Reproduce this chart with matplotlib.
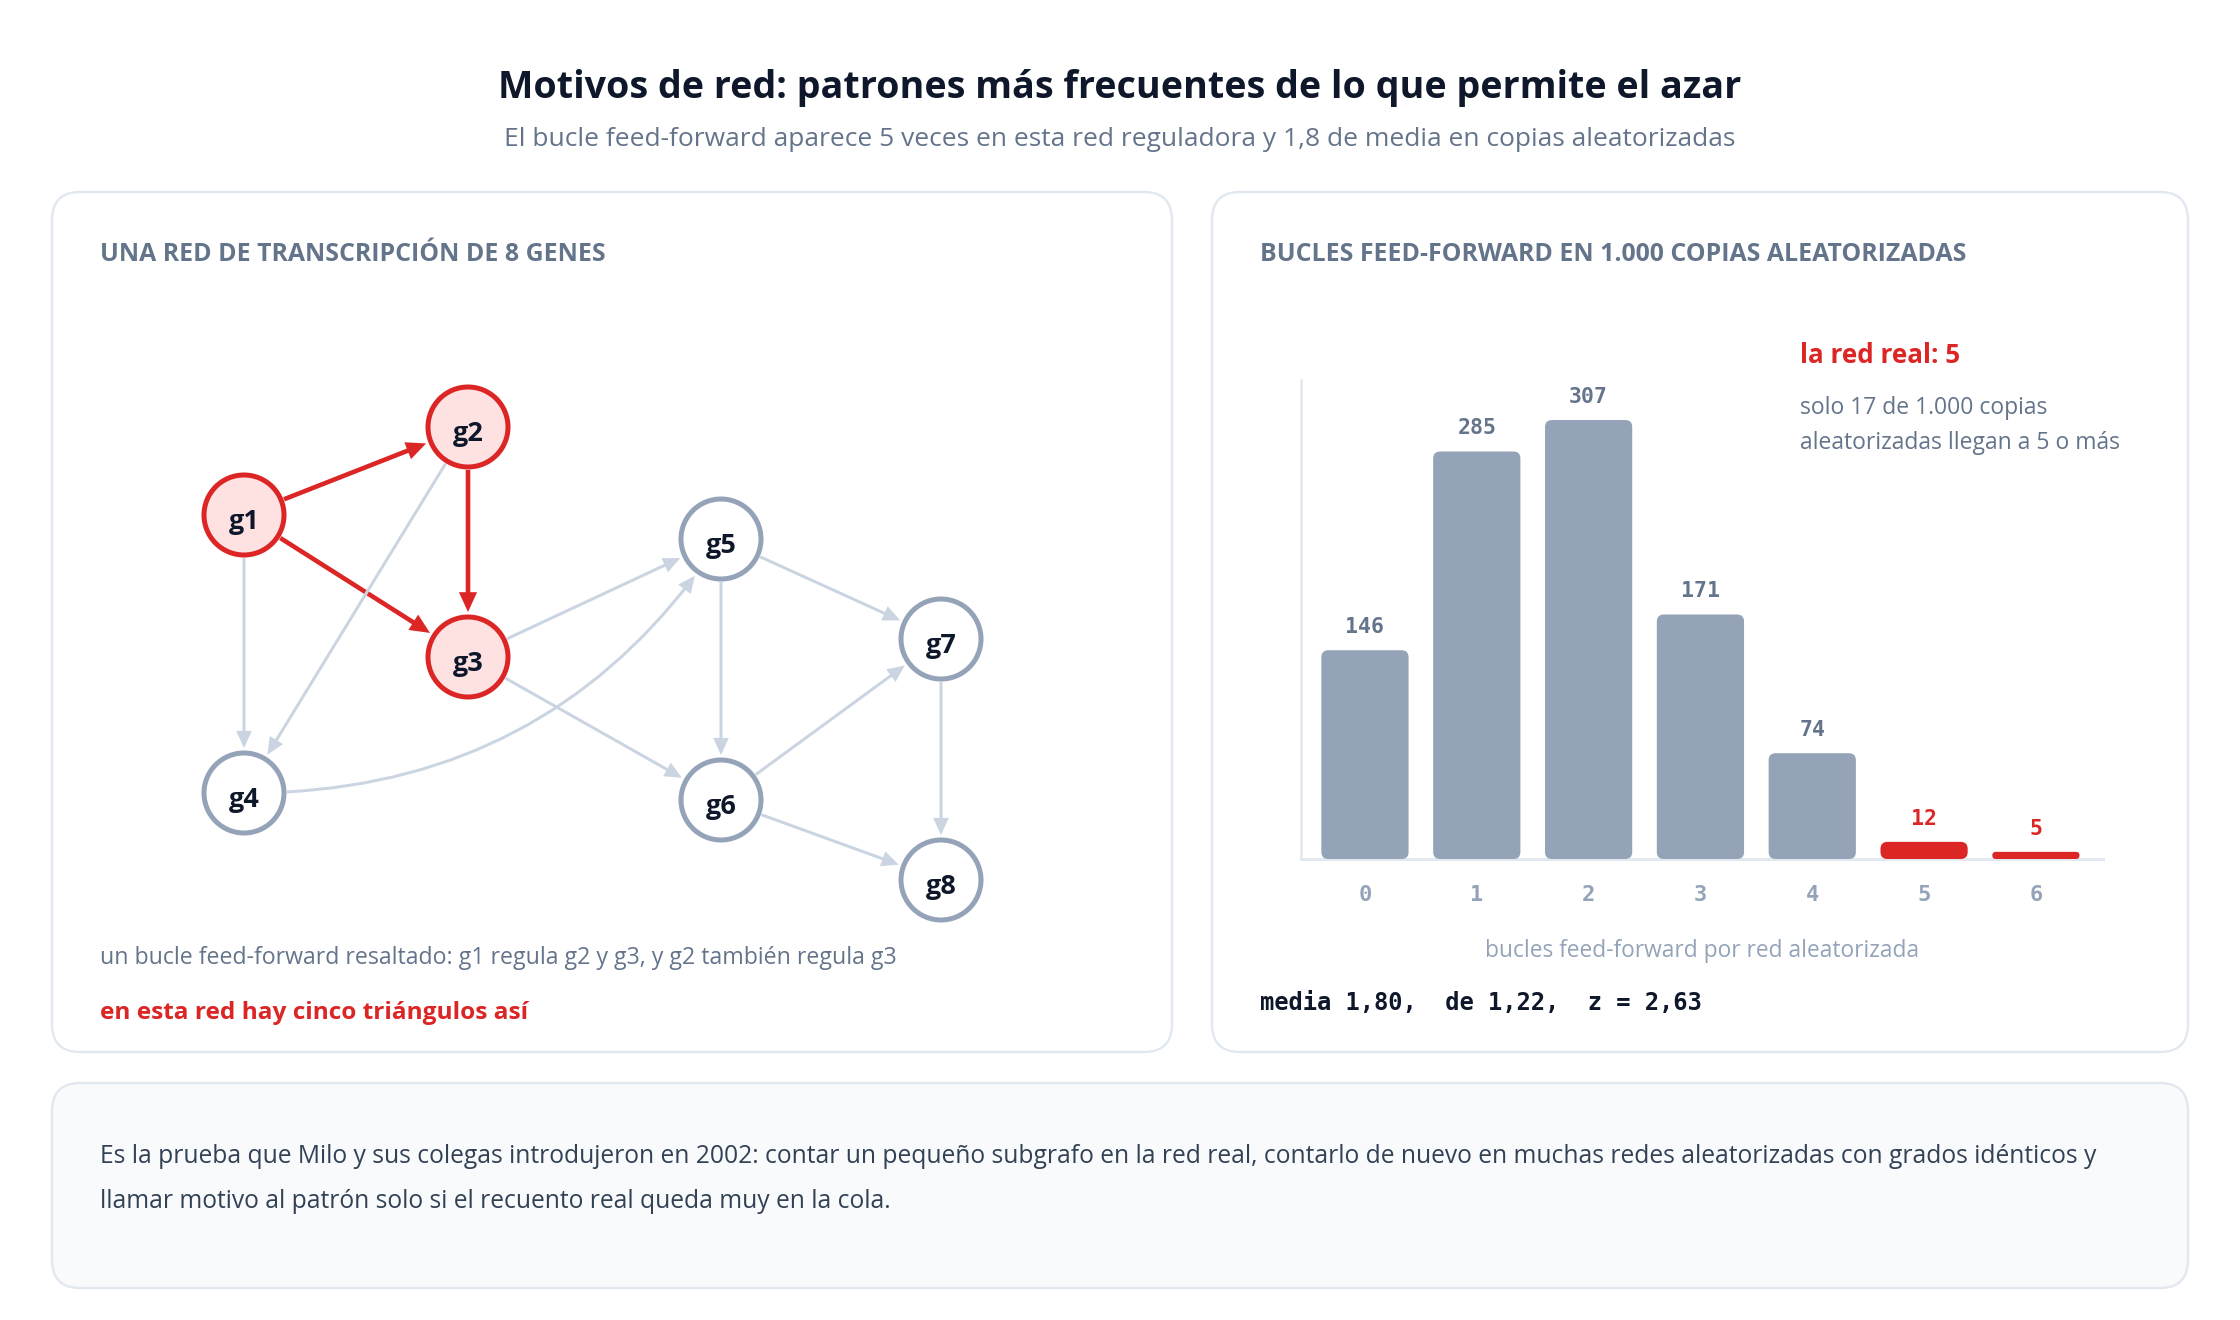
import matplotlib
matplotlib.use("Agg")
import matplotlib.pyplot as plt
from matplotlib.patches import FancyBboxPatch, Circle, FancyArrowPatch, ArrowStyle

# ---------------- data ----------------
title = "Motivos de red: patrones más frecuentes de lo que permite el azar"
subtitle = ("El bucle feed-forward aparece 5 veces en esta red reguladora "
            "y 1,8 de media en copias aleatorizadas")
left_header = "UNA RED DE TRANSCRIPCIÓN DE 8 GENES"
right_header = "BUCLES FEED-FORWARD EN 1.000 COPIAS ALEATORIZADAS"
caption_1 = "un bucle feed-forward resaltado: g1 regula g2 y g3, y g2 también regula g3"
caption_2 = "en esta red hay cinco triángulos así"
note_title = "la red real: 5"
note_lines = ["solo 17 de 1.000 copias", "aleatorizadas llegan a 5 o más"]
x_label = "bucles feed-forward por red aleatorizada"
stats_text = "media 1,80,  de 1,22,  z = 2,63"
footer_lines = [
    "Es la prueba que Milo y sus colegas introdujeron en 2002: contar un pequeño subgrafo en la red real, "
    "contarlo de nuevo en muchas redes aleatorizadas con grados idénticos y",
    "llamar motivo al patrón solo si el recuento real queda muy en la cola.",
]

genes = ["g1", "g2", "g3", "g4", "g5", "g6", "g7", "g8"]
gene_x = [192, 416, 416, 192, 669, 669, 889, 889]
gene_y = [323, 235, 465, 601, 347, 608, 447, 688]
highlight_genes = ["g1", "g2", "g3"]
edges = [("g1", "g2"), ("g1", "g3"), ("g2", "g3"), ("g1", "g4"), ("g2", "g4"),
         ("g3", "g5"), ("g3", "g6"), ("g4", "g5"), ("g5", "g6"), ("g5", "g7"),
         ("g6", "g7"), ("g6", "g8"), ("g7", "g8")]
highlight_edges = [("g1", "g2"), ("g1", "g3"), ("g2", "g3")]
curved_edges = {("g4", "g5"): 0.27}

ffl_counts = [0, 1, 2, 3, 4, 5, 6]
copies = [146, 285, 307, 171, 74, 12, 5]
real_count = 5

# ---------------- style ----------------
DPI = 100
W, H = 2240, 1320
SANS = ["Open Sans", "DejaVu Sans"]
MONO = ["DejaVu Sans Mono"]
DARK = "#0f172a"
SLATE = "#64748b"
LIGHT = "#94a3b8"
EDGE_GRAY = "#cbd5e1"
BORDER = "#e2e8f0"
RED = "#dc2626"
RED_FILL = "#fee2e2"
FOOT_TXT = "#334155"


def pt(px):
    return px * 72.0 / DPI


fig = plt.figure(figsize=(W / DPI, H / DPI), dpi=DPI, facecolor="white")
renderer = fig.canvas.get_renderer()

bg = fig.add_axes([0, 0, 1, 1], zorder=0)
bg.set_xlim(0, W)
bg.set_ylim(H, 0)
bg.axis("off")


def panel(x, y, w, h, face):
    bg.add_patch(FancyBboxPatch((x, y), w, h, boxstyle="round,pad=0,rounding_size=28",
                                fc=face, ec=BORDER, lw=pt(2.4)))


panel(52, 192, 1120, 860, "white")
panel(1212, 192, 976, 860, "white")
panel(52, 1083, 2136, 205, "#f8fafc")


def fit(t, w):
    bb = t.get_window_extent(renderer)
    t.set_fontsize(t.get_fontsize() * w / bb.width)
    return t


def txt(x, y, s, size_px, color, weight="normal", family=SANS, ha="left", width=None):
    t = bg.text(x, y, s, fontsize=pt(size_px), color=color, fontweight=weight,
                family=family, ha=ha, va="baseline")
    if width:
        fit(t, width)
    return t


txt(1120, 98, title, 38, DARK, "bold", ha="center", width=1245)
txt(1120, 146, subtitle, 26, SLATE, ha="center", width=1232)
txt(100, 261, left_header, 24, SLATE, "bold", width=503)
txt(1260, 261, right_header, 24, SLATE, "bold", width=706)
txt(100, 964, caption_1, 22, SLATE, width=798)
txt(100, 1019, caption_2, 24, RED, "bold", width=429)
txt(1800, 363, note_title, 26, RED, "bold", width=160)
n1 = txt(1800, 414, note_lines[0], 22, SLATE, width=248)
n2 = txt(1800, 449, note_lines[1], 22, SLATE)
n2.set_fontsize(n1.get_fontsize())
txt(1260, 1010, stats_text, 24, DARK, "bold", family=MONO, width=445)
f1 = txt(100, 1163, footer_lines[0], 24, FOOT_TXT, width=2006)
f2 = txt(100, 1208, footer_lines[1], 24, FOOT_TXT)
f2.set_fontsize(f1.get_fontsize())

# ---------------- network ----------------
net = fig.add_axes([52 / W, 1 - 1052 / H, 1120 / W, 860 / H], zorder=1)
net.set_xlim(0, 1120)
net.set_ylim(860, 0)
net.axis("off")
net.patch.set_alpha(0)

pos = {g: (x, y) for g, x, y in zip(genes, gene_x, gene_y)}
NODE_R = 40
NODE_LW = 5.0

for a, b in edges:
    hot = (a, b) in highlight_edges
    col = RED if hot else EDGE_GRAY
    lw = 4.6 if hot else 3.0
    rad = curved_edges.get((a, b), 0.0)
    arr = FancyArrowPatch(pos[a], pos[b],
                          arrowstyle=ArrowStyle("-|>", head_length=pt(12), head_width=pt(5.5)),
                          connectionstyle=f"arc3,rad={rad}",
                          shrinkA=pt(NODE_R + 3), shrinkB=pt(NODE_R + 5),
                          color=col, lw=pt(lw), mutation_scale=1,
                          joinstyle="miter", capstyle="butt", zorder=2)
    net.add_patch(arr)

for g in genes:
    hot = g in highlight_genes
    net.add_patch(Circle(pos[g], NODE_R, fc=RED_FILL if hot else "white",
                         ec=RED if hot else LIGHT, lw=pt(NODE_LW), zorder=3))
    net.text(pos[g][0], pos[g][1] + 14, g, ha="center", va="baseline",
             fontsize=pt(27), fontweight="bold", color=DARK, family=SANS, zorder=4)

# ---------------- histogram ----------------
hx0, hx1, hy_top, hy_base = 1301, 2103, 380, 859
hist = fig.add_axes([hx0 / W, 1 - hy_base / H, (hx1 - hx0) / W, (hy_base - hy_top) / H], zorder=1)
hist.patch.set_alpha(0)
XL = (-0.572, 6.6)
YL = (0, 335)
hist.set_xlim(*XL)
hist.set_ylim(*YL)
xpx = (hx1 - hx0) / (XL[1] - XL[0])
ypx = (hy_base - hy_top) / (YL[1] - YL[0])
BAR_W = 0.78

for c, v in zip(ffl_counts, copies):
    tail = c >= real_count
    col = RED if tail else LIGHT
    h_px = v * ypx
    r_px = min(7.0, h_px / 2.0)
    hist.add_patch(FancyBboxPatch((c - BAR_W / 2, 0), BAR_W, v,
                                  boxstyle=f"round,pad=0,rounding_size={r_px / xpx}",
                                  mutation_aspect=xpx / ypx, fc=col, ec="none", zorder=3))
    hist.annotate(str(v), (c, v), xytext=(0, pt(17)), textcoords="offset points",
                  ha="center", va="baseline", fontsize=pt(21.5), fontweight="bold",
                  family=MONO, color=RED if tail else SLATE, zorder=4)

for side in ("top", "right"):
    hist.spines[side].set_visible(False)
hist.spines["left"].set_color(BORDER)
hist.spines["left"].set_linewidth(pt(2.5))
hist.spines["bottom"].set_color(BORDER)
hist.spines["bottom"].set_linewidth(pt(3))
hist.set_yticks([])
hist.set_xticks(ffl_counts, labels=[str(c) for c in ffl_counts])
hist.tick_params(axis="x", length=0, pad=pt(42))
for lab in hist.get_xticklabels():
    lab.set_va("baseline")
    lab.set_fontfamily(MONO)
    lab.set_fontweight("bold")
    lab.set_fontsize(pt(22))
    lab.set_color(LIGHT)

hist.set_xlabel(x_label, fontsize=pt(22), color=LIGHT, family=SANS)
hist.xaxis.set_label_coords(0.5, -(957 - hy_base) / (hy_base - hy_top))
hist.xaxis.label.set_va("baseline")
fit(hist.xaxis.label, 434)

fig.savefig("out.png", dpi=DPI, facecolor="white")
